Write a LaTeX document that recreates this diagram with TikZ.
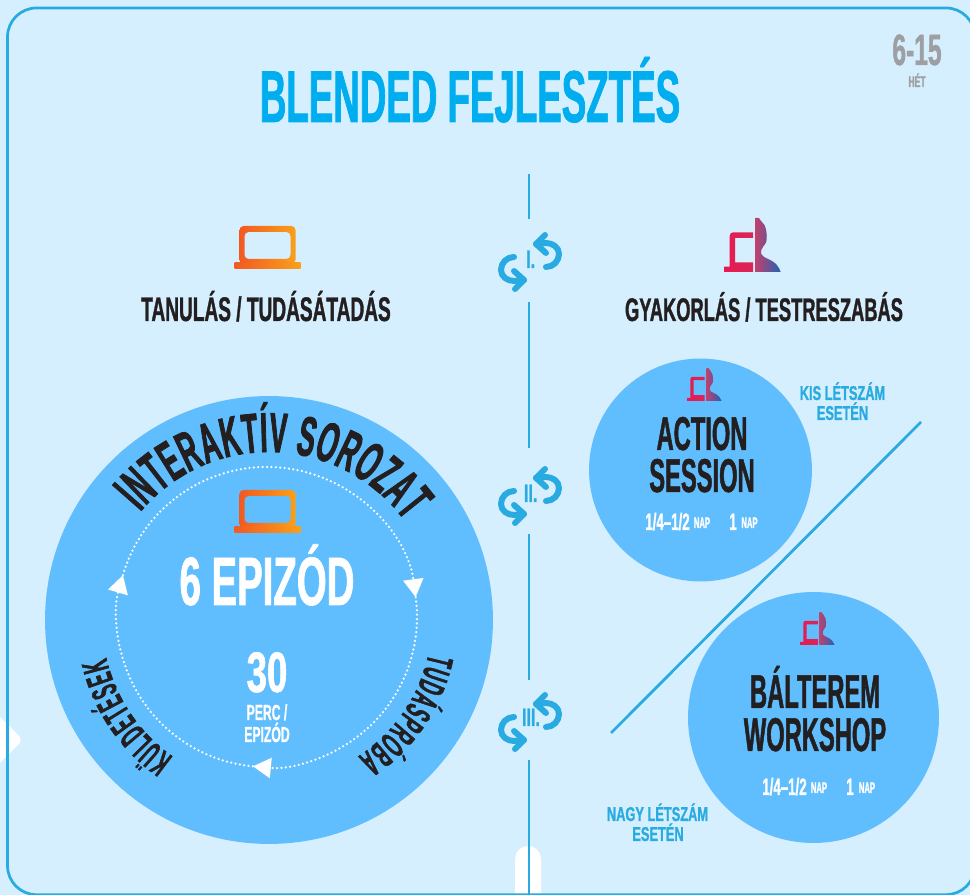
\documentclass[tikz,border=0pt]{standalone}
\usepackage{fontspec}
\setmainfont{Liberation Sans}[FakeStretch=0.5, FakeBold=1]
\newfontfamily\widecond{Liberation Sans}[FakeStretch=0.56, FakeBold=1]
\newfontfamily\numcond{Liberation Sans}[FakeStretch=0.64, FakeBold=1]
\newfontfamily\curvecond{Liberation Sans}[FakeStretch=0.44, FakeBold=1.4]
\newfontfamily\archcond{Liberation Sans}[FakeStretch=0.47, FakeBold=1.4]
\usepackage{tikz}
\usetikzlibrary{arrows.meta}
\usetikzlibrary{decorations.text}
\usetikzlibrary{positioning}
\definecolor{bgblue}{HTML}{D6EFFE}
\definecolor{circblue}{HTML}{60BEFE}
\definecolor{lineblue}{HTML}{29ABE2}
\definecolor{titleblue}{HTML}{00AEEF}
\definecolor{inkdark}{HTML}{231F20}
\definecolor{weekgray}{HTML}{9D9FA2}
\definecolor{laptopleft}{HTML}{F15A22}
\definecolor{laptopright}{HTML}{F9A01B}
\definecolor{personleft}{HTML}{E8194F}
\definecolor{personmid}{HTML}{D9265A}
\definecolor{bustleft}{HTML}{C0406E}
\definecolor{bustmid}{HTML}{A8507E}
\definecolor{bustright}{HTML}{1E64B4}
\newcommand{\cond}[1]{\bfseries\fontsize{#1}{#1}\selectfont}
\tikzset{
	laptop/.pic={
		\shade[left color=laptopleft, right color=laptopright, even odd rule, rounded corners=0.08cm]
			(-28,5) rectangle (28,43) (-23,10) rectangle (23,37);
		\shade[left color=laptopleft, right color=laptopright]
			(-33,0) rectangle (33,6);
	},
	personlaptop/.pic={
		\shade[left color=personleft, right color=personmid]
			(0,0) -- (29,0) -- (29,9.5) -- (11,9.5) -- (11,34) -- (29,34) -- (29,39.7) -- (9,39.7)
			.. controls (7,39.7) and (5.7,38) .. (5.7,36) -- (5.7,5.3) -- (0,5.3) -- cycle;
		\shade[left color=bustleft, middle color=bustmid, right color=bustright]
			(31.7,0) -- (31.7,54) -- (35,54) .. controls (37,50) and (41,48) .. (41.7,43.7)
			.. controls (43,38) and (43,34) .. (42.3,30.3) .. controls (41,26) and (38,26) .. (37.3,22)
			.. controls (36.5,18) and (38,16) .. (40,15) .. controls (44,12.5) and (53,11) .. (56.7,0) -- cycle;
	},
	swaparrows/.pic={
		\foreach \a in {0,180}{
			\begin{scope}[rotate=\a]
				\draw[lineblue, line width=0.12cm, line cap=round, line join=round]
					(-16,5) to[out=180, in=90] (-29,-8) to[out=-90, in=180] (-16,-19) -- (-6,-18);
				\draw[lineblue, line width=0.12cm, line cap=round, line join=round]
					(-16,-9) -- (-6,-18) -- (-15,-27);
			\end{scope}
		}
	}
}
\begin{document}
\begin{tikzpicture}[x=0.02cm, y=0.02cm,
				txt/.style={inner sep=0, anchor=base, align=center},
				disc/.style={circle, fill=circblue, inner sep=0},
				divider/.style={draw=lineblue, line width=0.055cm},
				dotline/.style={white, line width=0.05cm, line cap=round, dash pattern=on 0pt off 2.5pt, -{Triangle[length=0.36cm, width=0.4cm, fill=white]}},
				bigletters/.style={txt, text=inkdark, font=\cond{27}},
				smallwhite/.style={txt, text=white, font=\widecond\cond{13.5}},
				napwhite/.style={txt, text=white, font=\cond{8.7}},
				bluenote/.style={txt, text=lineblue, font=\numcond\cond{11.4}},
				steplabel/.style={txt, text=lineblue, font=\numcond\cond{14.3}}]
				\useasboundingbox (0,0) rectangle (970,895);
				\clip (0,0) rectangle (970,895);
				\fill[bgblue] (0,0) rectangle (970,895);
				\fill[white, rounded corners=0.12cm] (-30,208) -- (23,155) -- (-30,102) -- cycle;
				\fill[white, rounded corners=0.26cm] (515,-30) -- (515,49) -- (541,49) -- (541,-30) -- cycle;
				\draw[divider, rounded corners=0.58cm] (7.5,0.3) rectangle (975,887);
				
				\node[txt, text=titleblue, font=\cond{41.8}](title) at (470,773) {BLENDED FEJLESZTÉS};
				\node[txt, text=weekgray, font=\widecond\cond{25}](weeks) at (917,830) {6-15};
				\node[txt, text=weekgray, font=\widecond\cond{8.7}](weekunit) at (917,808) {HÉT};
				
				\draw[divider] (529,721) -- (529,676);
				\draw[divider] (529,593) -- (529,447);
				\draw[divider] (529,361) -- (529,215);
				\draw[divider] (529,135) -- (529,0);
				\draw[divider] (611,162) -- (921,473);
				
				\pic at (530,633) {swaparrows};
				\pic at (530,399) {swaparrows};
				\pic at (530,173) {swaparrows};
				\node[steplabel](step1) at (530.7,627) {I.};
				\node[steplabel](step2) at (530.7,393) {II.};
				\node[steplabel](step3) at (531,169) {III.};
				
				\pic at (267.5,626) {laptop};
				\pic at (724,623) {personlaptop};
				\node[txt, text=inkdark, font=\widecond\cond{19.4}](learn) at (266,574) {TANULÁS / TUDÁSÁTADÁS};
				\node[txt, text=inkdark, font=\widecond\cond{18.6}](practice) at (764,574) {GYAKORLÁS / TESTRESZABÁS};
				
				\node[disc, minimum size=8.96cm](series) at (269,275) {};
				\coordinate (loopc) at (267,278);
				\draw[dotline] ([shift={(163.8:150)}]loopc) arc[start angle=163.8, end angle=7.6, radius=150];
				\draw[dotline] ([shift={(7.6:150)}]loopc) arc[start angle=7.6, end angle=-95.4, radius=150];
				\draw[dotline] ([shift={(-95.4:150)}]loopc) arc[start angle=-95.4, end angle=-196.2, radius=150];
				\path[decorate, decoration={text along path, text align={fit to path},
					text={|\archcond\cond{32}\color{inkdark}|INTERAKTÍV SOROZAT}}]
					([shift={(140:168)}]series.center) arc[start angle=140, end angle=36, radius=168];
				\path[decorate, decoration={text along path, text align={fit to path},
					text={|\curvecond\cond{21}\color{inkdark}|TUDÁSPRÓBA}}]
					([shift={(-12:163)}]series.center) arc[start angle=-12, end angle=-57, radius=163];
				\path[decorate, decoration={text along path, text align={fit to path},
					text={|\curvecond\cond{21}\color{inkdark}|KÜLDETÉSEK}}]
					([shift={(235:167)}]series.center) arc[start angle=235, end angle=193, radius=167];
				\pic at (267.5,362) {laptop};
				\node[txt, text=white, font=\widecond\cond{39}](episodes) at (267,290) {6 EPIZÓD};
				\node[txt, text=white, font=\numcond\cond{32.5}](minutes) at (267,203) {30};
				\node[txt, text=white, font=\widecond\cond{12.4}](perline1) at (267,175) {PERC /};
				\node[txt, text=white, font=\widecond\cond{12.4}](perline2) at (267,153) {EPIZÓD};
				
				\node[disc, minimum size=4.46cm](action) at (700.5,425) {};
				\pic[scale=0.61] at (687,494) {personlaptop};
				\node[bigletters](action1) at (702,445) {ACTION};
				\node[bigletters](action2) at (702,403) {SESSION};
				\node[smallwhite](actiontime1) at (667.5,365) {1/4–1/2};
				\node[napwhite](actionnap1) at (702,367) {NAP};
				\node[smallwhite](actiontime2) at (733,365) {1};
				\node[napwhite](actionnap2) at (749.5,367) {NAP};
				\node[bluenote](smallgroup1) at (842.5,495) {KIS LÉTSZÁM};
				\node[bluenote](smallgroup2) at (842.5,475) {ESETÉN};
				
				\node[disc, minimum size=5.02cm](ballroom) at (813.5,177.5) {};
				\pic[scale=0.61] at (800,250) {personlaptop};
				\node[bigletters](ballroom1) at (815,187) {BÁLTEREM};
				\node[bigletters](ballroom2) at (815,144) {WORKSHOP};
				\node[smallwhite](ballroomtime1) at (784.5,100) {1/4–1/2};
				\node[napwhite](ballroomnap1) at (819,102) {NAP};
				\node[smallwhite](ballroomtime2) at (850,100) {1};
				\node[napwhite](ballroomnap2) at (867,102) {NAP};
				\node[bluenote](biggroup1) at (657.5,74) {NAGY LÉTSZÁM};
				\node[bluenote](biggroup2) at (658,54) {ESETÉN};
			\end{tikzpicture}
\end{document}
